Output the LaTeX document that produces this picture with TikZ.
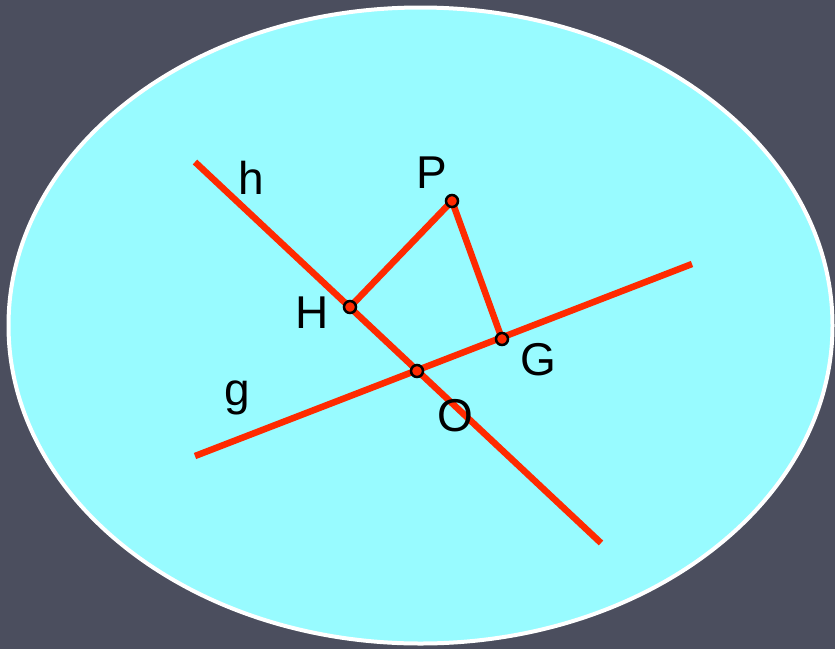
\documentclass[tikz,border=0pt]{standalone}
\usepackage{fontspec}
\setmainfont{Liberation Sans}
\definecolor{slate}{HTML}{4B4E5E}
\definecolor{aqua}{HTML}{98FBFF}
\definecolor{redline}{HTML}{FF2A00}
\begin{document}
\begin{tikzpicture}[x=1pt,y=-1pt,
  lin/.style={redline,line width=6.5pt},
  pt/.style={circle,draw=black,fill=redline,line width=2.5pt,inner sep=0pt,minimum size=12pt},
  lbl/.style={font=\fontsize{46}{48}\selectfont,text=black,inner sep=0pt}]
\fill[slate] (0,0) rectangle (835,649);
\useasboundingbox (0,0) rectangle (835,649);
\fill[aqua,draw=white,line width=4pt] (420.5,325.5) ellipse [x radius=412,y radius=318];
\coordinate (h1) at (195,162);
\coordinate (h2) at (601,543);
\coordinate (g1) at (195,456);
\coordinate (g2) at (692,264);
\draw[lin] (h1) -- (h2);
\draw[lin] (g1) -- (g2);
\coordinate (Hc) at (350,307);
\coordinate (Pc) at (452,201);
\coordinate (Gc) at (502,339);
\coordinate (Oc) at (417,371);
\draw[lin] (Hc) -- (Pc) -- (Gc);
\node[pt] (H) at (Hc) {};
\node[pt] (P) at (Pc) {};
\node[pt] (G) at (Gc) {};
\node[pt] (O) at (Oc) {};
\node[lbl] (lh) at (251,178) {h};
\node[lbl] (lP) at (432,173) {P};
\node[lbl] (lH) at (312,313) {H};
\node[lbl] (lG) at (538,360) {G};
\node[lbl] (lg) at (237,398) {g};
\node[lbl] (lO) at (455,416) {O};
\end{tikzpicture}
\end{document}
